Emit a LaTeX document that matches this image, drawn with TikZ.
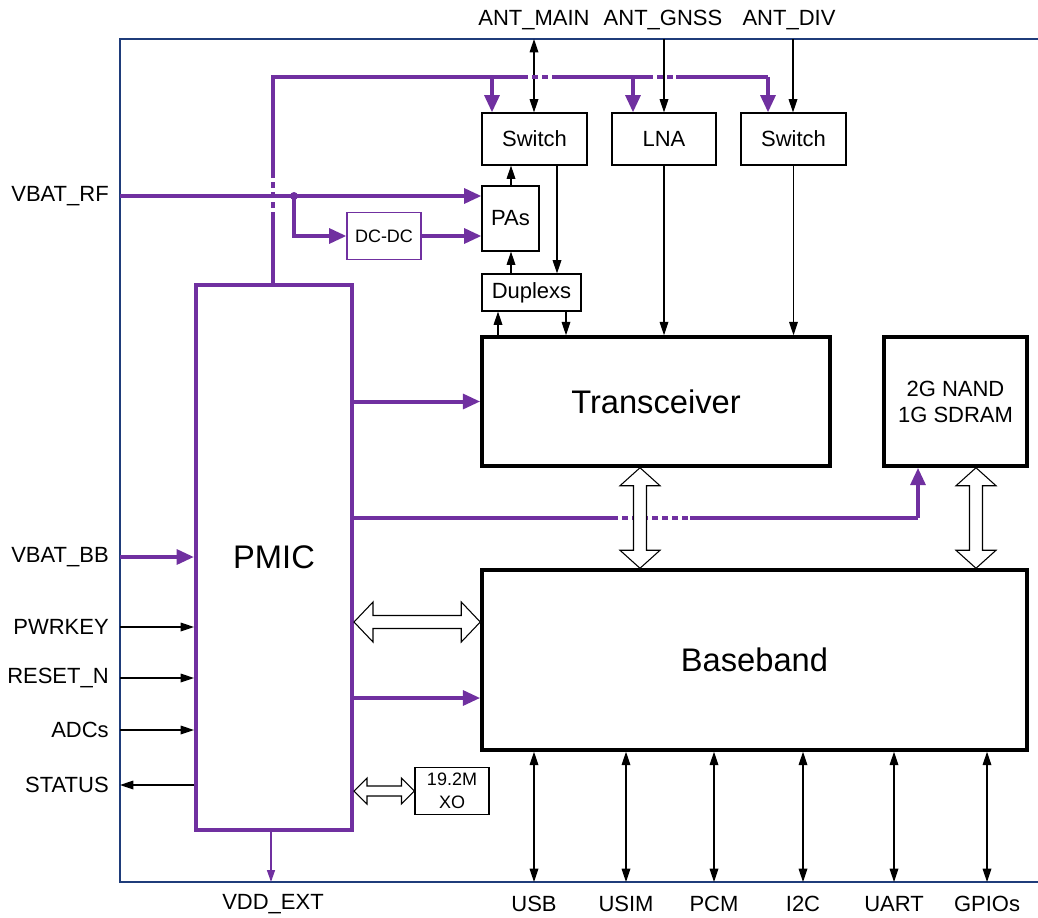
\documentclass[tikz,border=0pt]{standalone}
\usepackage{fontspec}
\setmainfont{Liberation Sans}
\usetikzlibrary{arrows.meta,calc}
\definecolor{pur}{HTML}{7030A0}
\definecolor{framec}{HTML}{1F3C7A}
\newcommand\hollowV[5]{\draw[hollow] (#1) -- ++({#4},{#3}) -- ++({#5-#4},0) -- ($(#2)+({#5},{-#3})$) -- ++({#4-#5},0) -- (#2) -- ++({-#4},{-#3}) -- ++({#4-#5},0) -- ($(#1)+({-#5},{#3})$) -- ++({#5-#4},0) -- cycle;}
\newcommand\hollowH[5]{\draw[hollow] (#1) -- ++({#3},{-#4}) -- ++(0,{#4-#5}) -- ($(#2)+({-#3},{-#5})$) -- ++(0,{#5-#4}) -- (#2) -- ++({-#3},{#4}) -- ++(0,{#5-#4}) -- ($(#1)+({#3},{#5})$) -- ++(0,{#4-#5}) -- cycle;}
\begin{document}
\begin{tikzpicture}[x=0.75pt,y=-0.75pt,
  lbl/.style={font=\fontsize{16.5}{19}\selectfont, inner sep=0pt},
  box/.style={draw, line width=0.8pt, inner sep=0pt, font=\fontsize{16.5}{19}\selectfont, align=center},
  bigbox/.style={draw, line width=2.6pt, inner sep=0pt, font=\fontsize{24.5}{28}\selectfont},
  blk/.style={draw=black, line width=0.9pt},
  arr/.style={blk, -{Triangle[length=10pt,width=6.5pt]}},
  darr/.style={blk, {Triangle[length=10pt,width=6.5pt]}-{Triangle[length=10pt,width=6.5pt]}},
  pbus/.style={draw=pur, line width=3pt},
  pdash/.style={pbus, dash pattern=on 4.5pt off 3pt},
  parr/.style={pbus, -{Triangle[length=13pt,width=11pt]}},
  hollow/.style={draw=black, line width=0.8pt, fill=white, line join=miter},
]
\useasboundingbox (0,0) rectangle (1038,917);
% frame
\draw[framec, line width=1pt] (1038,39) -- (120,39) -- (120,882) -- (1038,882);

% boxes
\node[box, minimum width=78.75pt, minimum height=39pt] (sw1) at (534.5,139) {Switch};
\node[box, minimum width=78pt, minimum height=39pt] (lna) at (664,139) {LNA};
\node[box, minimum width=78.75pt, minimum height=39pt] (sw2) at (793.5,139) {Switch};
\node[box, minimum width=42.75pt, minimum height=48.75pt] (pas) at (510.5,218.5) {PAs};
\node[box, draw=pur, font=\fontsize{13.5}{16}\selectfont, minimum width=55.5pt, minimum height=35.25pt] (dcdc) at (384,236) {DC-DC};
\node[box, minimum width=74.25pt, minimum height=27.75pt] (dup) at (531.5,292.5) {Duplexs};
\node[bigbox, minimum width=261pt, minimum height=96.75pt] (tr) at (656,401.5) {Transceiver};
\node[bigbox, font=\fontsize{16.5}{19.5}\selectfont, align=center, minimum width=107.25pt, minimum height=96.75pt] (nand) at (955.5,401.5) {2G NAND\\1G SDRAM};
\node[bigbox, minimum width=408.75pt, minimum height=135pt] (bb) at (754.5,660) {Baseband};
\node[bigbox, draw=pur, line width=3pt, minimum width=117pt, minimum height=408.75pt] (pmic) at (274,557.5) {PMIC};
\node[box, font=\fontsize{13.5}{17}\selectfont, minimum width=55.5pt, minimum height=35.25pt] (xo) at (452,791) {19.2M\\XO};

% top labels
\node[lbl] (lam) at (534,20) {ANT\_MAIN};
\node[lbl] (lag) at (663,20) {ANT\_GNSS};
\node[lbl] (lad) at (789,20) {ANT\_DIV};
\coordinate (fam) at (534,39);
\coordinate (fag) at (664,39);
\coordinate (fad) at (793,39);
\draw[darr] (fam) -- (fam |- sw1.north);
\draw[arr] (fag) -- (fag |- lna.north);
\draw[arr] (fad) -- (fad |- sw2.north);

% purple bus
\coordinate (bc) at (273,77);
\draw[pbus] (273,0 |- pmic.north) -- (273,218);
\draw[pdash] (273,218) -- (273,176);
\draw[pbus] (273,176) -- (bc) -- (522,77);
\draw[pdash] (522,77) -- (558,77);
\draw[pbus] (558,77) -- (647,77);
\draw[pdash] (647,77) -- (676,77);
\draw[pbus] (676,77) -- (768,77);
\draw[parr] (768,77) -- (768,0 |- sw2.north);
\draw[parr] (492,77) -- (492,0 |- sw1.north);
\draw[parr] (633,77) -- (633,0 |- lna.north);

% VBAT_RF
\node[lbl, anchor=east] (lvrf) at (109,196) {VBAT\_RF};
\coordinate (vrf) at (120,196);
\coordinate (jn) at (294,196);
\draw[parr] (vrf) -- (vrf -| pas.west);
\fill[pur] (jn) circle (3pt);
\draw[parr] (jn) -- (jn |- dcdc.west) -- (dcdc.west);
\draw[parr] (dcdc.east) -- (dcdc.east -| pas.west);

% RF chain
\draw[arr] (511,0 |- pas.north) -- (511,0 |- sw1.south);
\draw[arr] (557,0 |- sw1.south) -- (557,0 |- dup.north);
\draw[arr] (511,0 |- dup.north) -- (511,0 |- pas.south);
\draw[arr] (498,0 |- tr.north) -- (498,0 |- dup.south);
\draw[arr] (566,0 |- dup.south) -- (566,0 |- tr.north);
\draw[arr] (lna.south) -- (lna.south |- tr.north);
\draw[arr] (sw2.south) -- (sw2.south |- tr.north);

% PMIC connections
\draw[parr] (pmic.east |- tr.west) -- (tr.west);
\coordinate (pn) at (pmic.east |- 0,518);
\draw[pbus] (pn) -- (612,518);
\draw[pdash] (612,518) -- (690,518);
\draw[pbus] (690,518) -- (918,518);
\draw[parr] (918,518) -- (918,0 |- nand.south);
\draw[parr] (pmic.east |- 0,698) -- (bb.west |- 0,698);
\coordinate (hb1) at (pmic.east |- 0,622);
\coordinate (hb2) at (bb.west |- 0,622);
\hollowH{hb1}{hb2}{19}{20}{6.5}
\coordinate (vt1) at (640,0 |- tr.south);
\coordinate (vt2) at (640,0 |- bb.north);
\hollowV{vt1}{vt2}{18}{20}{6.5}
\coordinate (vn1) at (976,0 |- nand.south);
\coordinate (vn2) at (976,0 |- bb.north);
\hollowV{vn1}{vn2}{18}{20}{6.5}
\coordinate (xo1) at (pmic.east |- xo.west);
\hollowH{xo1}{xo.west}{13}{13}{5}

% left signals
\node[lbl, anchor=east] (lvbb) at (109,557) {VBAT\_BB};
\coordinate (vbb) at (120,557);
\draw[parr] (vbb) -- (vbb -| pmic.west);
\node[lbl, anchor=east] (lpk) at (109,627) {PWRKEY};
\coordinate (pk) at (120,627);
\draw[arr] (pk) -- (pk -| pmic.west);
\node[lbl, anchor=east] (lrs) at (109,678) {RESET\_N};
\coordinate (rs) at (120,678);
\draw[arr] (rs) -- (rs -| pmic.west);
\node[lbl, anchor=east] (lad2) at (109,730) {ADCs};
\coordinate (ad) at (120,730);
\draw[arr] (ad) -- (ad -| pmic.west);
\node[lbl, anchor=east] (lst) at (109,785) {STATUS};
\coordinate (st) at (120,785);
\draw[arr] (st -| pmic.west) -- (st);

% VDD_EXT
\coordinate (vdd) at (271,882);
\draw[draw=pur, line width=1.1pt, -{Triangle[length=9pt,width=6pt]}] (vdd |- pmic.south) -- (vdd);
\node[lbl] (lvdd) at (273,904) {VDD\_EXT};

% bottom interfaces
\foreach \x/\t/\n in {534/USB/usb, 626/USIM/usim, 714/PCM/pcm, 803/I2C/iic, 894/UART/uart, 987/GPIOs/gpio}{
  \coordinate (c\n) at (\x,882);
  \draw[darr] (c\n |- bb.south) -- (c\n);
  \node[lbl] (l\n) at (\x,904) {\t};
}
\end{tikzpicture}
\end{document}
